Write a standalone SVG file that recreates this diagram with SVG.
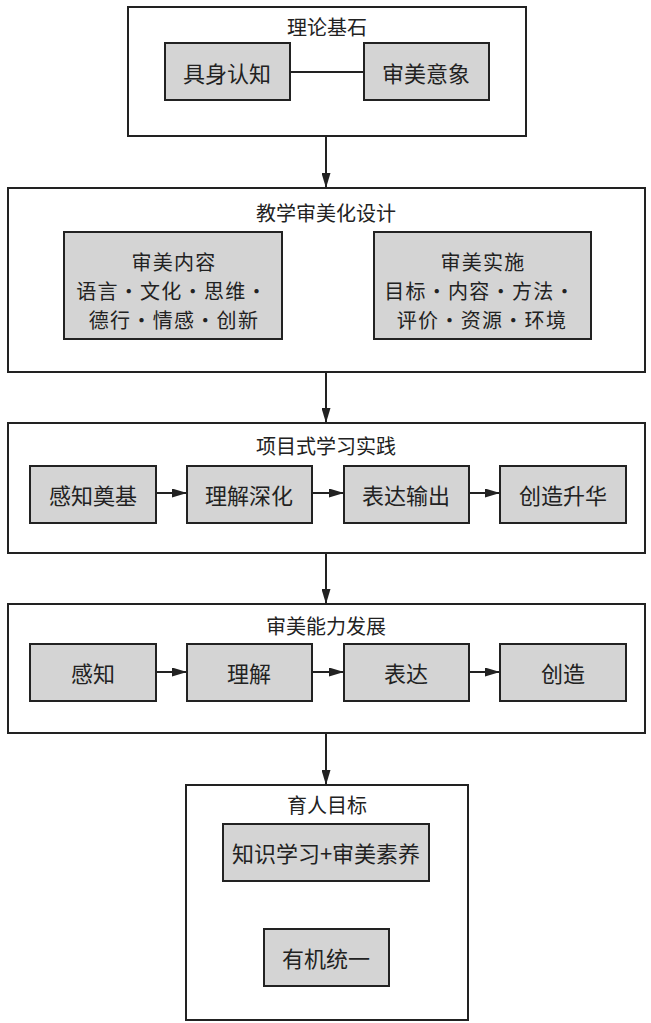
<svg xmlns="http://www.w3.org/2000/svg" width="651" height="1023" viewBox="0 0 651 1023">
<style>
.outer{fill:#fff;stroke:#222;stroke-width:2}
.inner{fill:#d4d4d4;stroke:#222;stroke-width:2}
text{font-family:"Noto Sans CJK SC","Noto Sans",sans-serif;fill:#222;text-anchor:middle;dominant-baseline:central}
.t{font-size:20px}
.n{font-size:22px}
.m{font-size:20px;letter-spacing:1.3px}
.c{stroke:#222;stroke-width:2;fill:none}
</style>
<defs>
<marker id="ah" markerWidth="15" markerHeight="9" refX="15" refY="4.5" orient="auto" markerUnits="userSpaceOnUse">
<path d="M0,0 L15,4.5 L0,9 Z" fill="#222"/>
</marker>
</defs>
<rect width="651" height="1023" fill="#fff"/>
<g id="theory">
<rect class="outer" x="128" y="7" width="398" height="129"/>
<text class="t" x="327" y="26">理论基石</text>
</g>
<g id="embodied">
<rect class="inner" x="165" y="43" width="125" height="57"/>
<text class="n" x="227" y="72">具身认知</text>
</g>
<g id="imagery">
<rect class="inner" x="364" y="43" width="125" height="57"/>
<text class="n" x="426" y="72">审美意象</text>
</g>
<g id="design">
<rect class="outer" x="8" y="188" width="637" height="184"/>
<text class="t" x="326" y="212">教学审美化设计</text>
</g>
<g id="content">
<rect class="inner" x="64" y="232" width="218" height="107"/>
<text class="m"><tspan x="174" y="261">审美内容</tspan><tspan x="172" y="290">语言·文化·思维·</tspan><tspan x="174" y="319">德行·情感·创新</tspan></text>
</g>
<g id="implement">
<rect class="inner" x="374" y="232" width="217" height="107"/>
<text class="m"><tspan x="483" y="261">审美实施</tspan><tspan x="480" y="290">目标·内容·方法·</tspan><tspan x="482" y="319">评价·资源·环境</tspan></text>
</g>
<g id="project">
<rect class="outer" x="8" y="423" width="637" height="130"/>
<text class="t" x="326" y="445">项目式学习实践</text>
</g>
<g id="p1"><rect class="inner" x="30" y="466" width="126" height="57"/><text class="n" x="93" y="494">感知奠基</text></g>
<g id="p2"><rect class="inner" x="187" y="466" width="125" height="57"/><text class="n" x="249" y="494">理解深化</text></g>
<g id="p3"><rect class="inner" x="344" y="466" width="125" height="57"/><text class="n" x="406" y="494">表达输出</text></g>
<g id="p4"><rect class="inner" x="500" y="466" width="126" height="57"/><text class="n" x="563" y="494">创造升华</text></g>
<g id="ability">
<rect class="outer" x="8" y="604" width="637" height="129"/>
<text class="t" x="326" y="625">审美能力发展</text>
</g>
<g id="a1"><rect class="inner" x="30" y="644" width="126" height="57"/><text class="n" x="93" y="672">感知</text></g>
<g id="a2"><rect class="inner" x="187" y="644" width="125" height="57"/><text class="n" x="249" y="672">理解</text></g>
<g id="a3"><rect class="inner" x="344" y="644" width="125" height="57"/><text class="n" x="406" y="672">表达</text></g>
<g id="a4"><rect class="inner" x="500" y="644" width="126" height="57"/><text class="n" x="563" y="672">创造</text></g>
<g id="goal">
<rect class="outer" x="186" y="785" width="282" height="235"/>
<text class="t" x="327" y="804">育人目标</text>
</g>
<g id="g1"><rect class="inner" x="223" y="824" width="206" height="57"/><text class="n" x="326" y="852">知识学习+审美素养</text></g>
<g id="g2"><rect class="inner" x="264" y="929" width="125" height="57"/><text class="n" x="326" y="957">有机统一</text></g>
<g id="connectors">
<line class="c" x1="290" y1="72" x2="364" y2="72"/>
<line class="c" x1="326" y1="136" x2="326" y2="188" marker-end="url(#ah)"/>
<line class="c" x1="326" y1="372" x2="326" y2="423" marker-end="url(#ah)"/>
<line class="c" x1="326" y1="553" x2="326" y2="604" marker-end="url(#ah)"/>
<line class="c" x1="326" y1="733" x2="326" y2="785" marker-end="url(#ah)"/>
<line class="c" x1="156" y1="493" x2="187" y2="493" marker-end="url(#ah)"/>
<line class="c" x1="312" y1="493" x2="344" y2="493" marker-end="url(#ah)"/>
<line class="c" x1="469" y1="493" x2="500" y2="493" marker-end="url(#ah)"/>
<line class="c" x1="156" y1="672" x2="187" y2="672" marker-end="url(#ah)"/>
<line class="c" x1="312" y1="672" x2="344" y2="672" marker-end="url(#ah)"/>
<line class="c" x1="469" y1="672" x2="500" y2="672" marker-end="url(#ah)"/>
</g>
</svg>
